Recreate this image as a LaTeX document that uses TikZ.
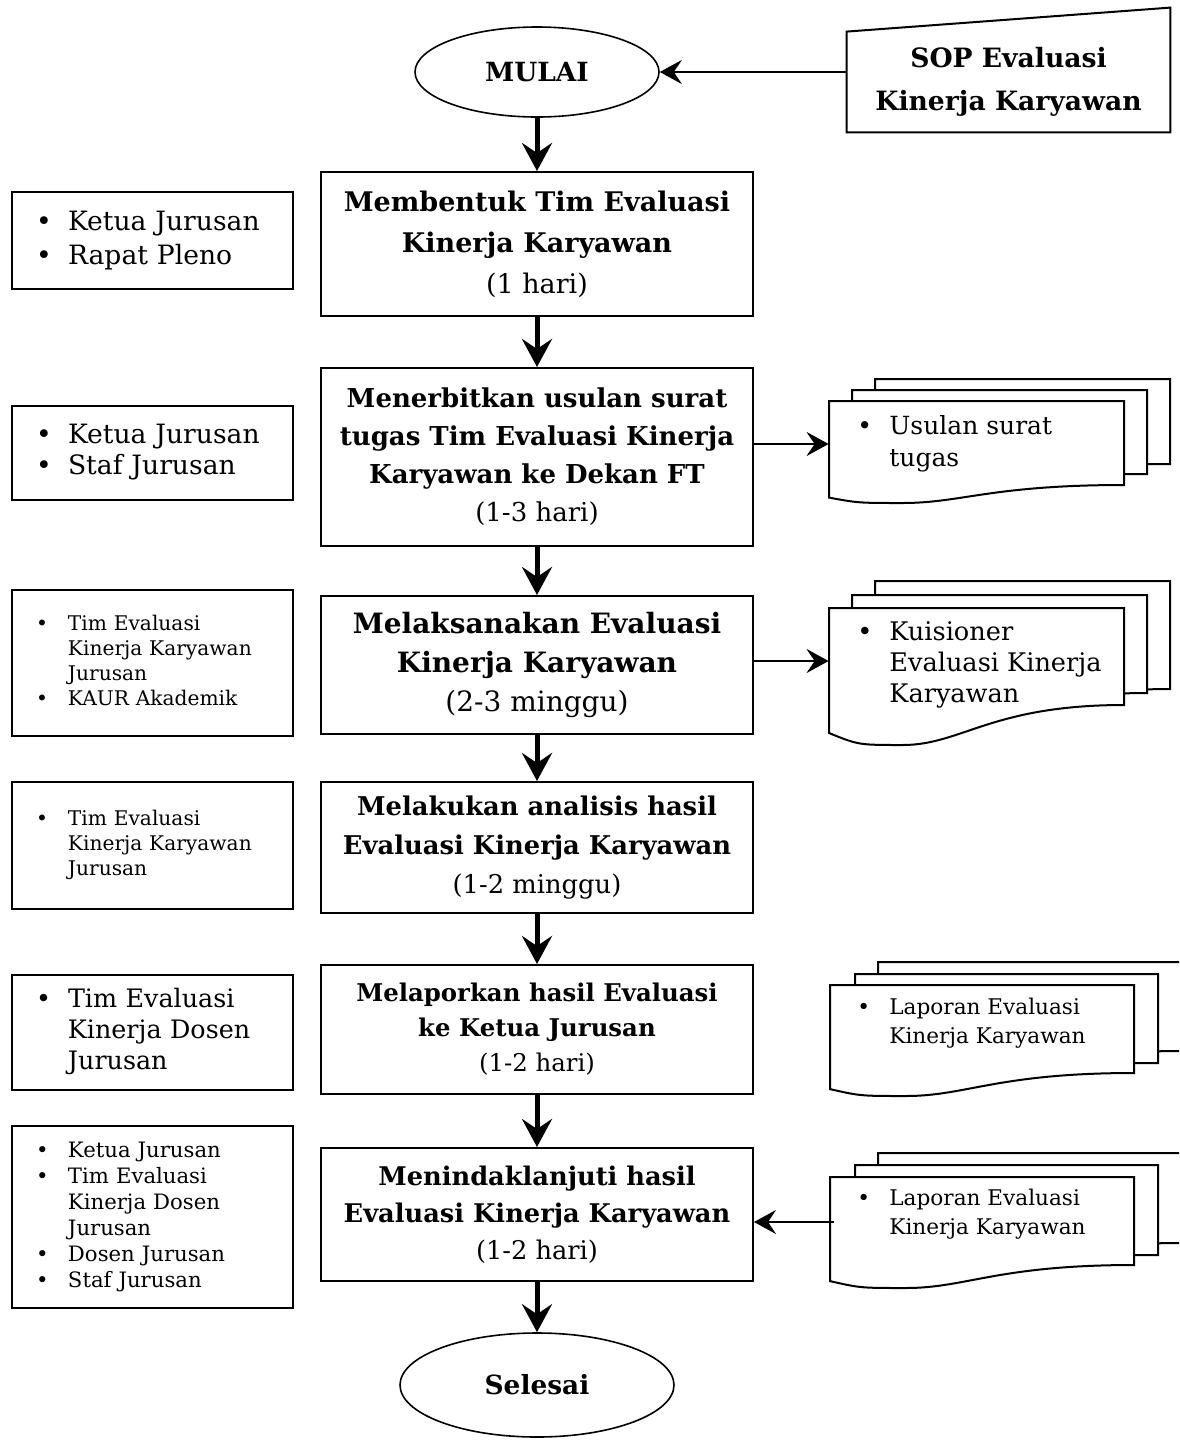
\documentclass[tikz,border=0pt]{standalone}
\usepackage{fontspec}
\setmainfont{DejaVu Serif}
\usetikzlibrary{shapes.geometric,arrows.meta}

\newcommand{\fsz}[2]{\fontsize{#1}{#2}\selectfont}
% one sheet of a document stack: left, top, right, bottom, wave
\newcommand{\docpage}[5]{%
  \draw[page] (#1,#2) -- (#3,#2) -- (#3,#4)
    .. controls ({#1+0.55*(#3-#1)},#4) and ({#1+0.45*(#3-#1)},{#4+#5}) .. ({#1+0.25*(#3-#1)},{#4+#5})
    .. controls ({#1+0.1*(#3-#1)},{#4+#5}) .. (#1,{#4+0.7*#5}) -- cycle;}

\tikzset{
  proc/.style={draw, line width=1pt, minimum width=216pt, align=center, inner sep=0pt},
  term/.style={draw, ellipse, line width=0.8pt, inner sep=0pt, font=\bfseries\fsz{13.2}{16}},
  actor/.style={draw, line width=1pt, minimum width=140.5pt, text width=116.5pt,
                inner xsep=12pt, inner ysep=0pt, align=left},
  doctext/.style={anchor=west, inner sep=0pt, align=left},
  docpage/.style={minimum width=147.5pt, inner sep=0pt},
  page/.style={draw, line width=1pt, fill=white},
  flow/.style={line width=2.5pt, -{Stealth[length=14pt,width=15pt,inset=5pt]}},
  arr/.style={line width=1pt, -{Stealth[length=11pt,width=12pt,inset=4pt]}}
}

\begin{document}
\begin{tikzpicture}[x=1pt,y=-1pt]
\useasboundingbox (0,0) rectangle (589.5,720.5);
\clip (0,0) rectangle (589.5,720.5);
%\draw[gray,very thin] (0,0) grid[step=50] (589.5,720.5);

\node[term, minimum width=122pt, minimum height=45pt] (mulai) at (268.5,36) {MULAI};

\node[align=center, font=\bfseries\fsz{13.3}{21.5}, minimum width=161.5pt, minimum height=50pt, inner sep=0pt] (sop) at (504.25,41) {SOP Evaluasi\\Kinerja Karyawan};
\draw[line width=1pt] (sop.south west) -- (sop.south east) -- ([yshift=12pt]sop.north east) -- (sop.north west) -- cycle;

\draw[arr] (mulai.east -| sop.west) -- (mulai.east);

\node[proc, minimum height=72pt, font=\fsz{13.5}{20.5}] (box1) at (268.5,122) {\textbf{Membentuk Tim Evaluasi}\\\textbf{Kinerja Karyawan}\\(1 hari)};

\node[proc, minimum height=89pt, font=\fsz{13}{19}] (box2) at (268.5,228.5) {\textbf{Menerbitkan usulan surat}\\\textbf{tugas Tim Evaluasi Kinerja}\\\textbf{Karyawan ke Dekan FT}\\(1-3 hari)};

\node[proc, minimum height=69pt, font=\fsz{14}{19.5}] (box3) at (268.5,332.5) {\textbf{Melaksanakan Evaluasi}\\\textbf{Kinerja Karyawan}\\(2-3 minggu)};

\node[proc, minimum height=65.5pt, font=\fsz{12.9}{19.5}] (box4) at (268.5,423.75) {\textbf{Melakukan analisis hasil}\\\textbf{Evaluasi Kinerja Karyawan}\\(1-2 minggu)};

\node[proc, minimum height=64.5pt, font=\fsz{12.2}{17.5}] (box5) at (268.5,514.75) {\textbf{Melaporkan hasil Evaluasi}\\\textbf{ke Ketua Jurusan}\\(1-2 hari)};

\node[proc, minimum height=66.5pt, font=\fsz{12.85}{18.5}] (box6) at (268.5,607.25) {\textbf{Menindaklanjuti hasil}\\\textbf{Evaluasi Kinerja Karyawan}\\(1-2 hari)};

\node[term, minimum width=137pt, minimum height=52pt] (selesai) at (268.5,692.5) {Selesai};

\draw[flow] (mulai) -- (box1);
\draw[flow] (box1) -- (box2);
\draw[flow] (box2) -- (box3);
\draw[flow] (box3) -- (box4);
\draw[flow] (box4) -- (box5);
\draw[flow] (box5) -- (box6);
\draw[flow] (box6) -- (selesai);

% who does it
\node[actor, minimum height=48.5pt, font=\fsz{13.3}{17}] (pel1) at (76.25,120.25) {\begin{tabular}{@{}p{16pt}@{}l@{}}\textbullet & Ketua Jurusan\\ \textbullet & Rapat Pleno\end{tabular}};

\node[actor, minimum height=47pt, font=\fsz{13.3}{15.5}] (pel2) at (76.25,226.5) {\begin{tabular}{@{}p{16pt}@{}l@{}}\textbullet & Ketua Jurusan\\ \textbullet & Staf Jurusan\end{tabular}};

\node[actor, minimum height=73pt, font=\fsz{10.1}{12.5}] (pel3) at (76.25,331.5) {\begin{tabular}{@{}p{16pt}@{}l@{}}\textbullet & Tim Evaluasi\\ & Kinerja Karyawan\\ & Jurusan\\ \textbullet & KAUR Akademik\end{tabular}};

\node[actor, minimum height=63.5pt, font=\fsz{10.1}{12.5}] (pel4) at (76.25,422.75) {\begin{tabular}{@{}p{16pt}@{}l@{}}\textbullet & Tim Evaluasi\\ & Kinerja Karyawan\\ & Jurusan\end{tabular}};

\node[actor, minimum height=57.5pt, font=\fsz{12.7}{15.5}] (pel5) at (76.25,516.25) {\begin{tabular}{@{}p{16pt}@{}l@{}}\textbullet & Tim Evaluasi\\ & Kinerja Dosen\\ & Jurusan\end{tabular}};

\node[actor, minimum height=91pt, font=\fsz{10.6}{13}] (pel6) at (76.25,608.5) {\begin{tabular}{@{}p{16pt}@{}l@{}}\textbullet & Ketua Jurusan\\ \textbullet & Tim Evaluasi\\ & Kinerja Dosen\\ & Jurusan\\ \textbullet & Dosen Jurusan\\ \textbullet & Staf Jurusan\end{tabular}};

% documents
\docpage{437.5}{189.5}{585}{232}{9}
\docpage{426}{195}{573.5}{237}{9}
\docpage{414.5}{200.5}{562}{242.5}{9}
\node[docpage, minimum height=43pt] (docA) at (488.25,222) {};
\node[doctext, font=\fsz{12.5}{16}] (docAtxt) at (428.5,222) {\begin{tabular}{@{}p{16pt}@{}l@{}}\textbullet & Usulan surat\\ & tugas\end{tabular}};

\docpage{437.5}{290.5}{585}{344.5}{20}
\docpage{426}{297.5}{573.5}{346.5}{20}
\docpage{414.5}{304}{562}{352.5}{20}
\node[docpage, minimum height=53pt] (docB) at (488.25,330.5) {};
\node[doctext, font=\fsz{12.8}{15.5}] (docBtxt) at (428.5,332.75) {\begin{tabular}{@{}p{16pt}@{}l@{}}\textbullet & Kuisioner\\ & Evaluasi Kinerja\\ & Karyawan\end{tabular}};

\docpage{439}{481}{592}{525.5}{11.5}
\docpage{427.5}{487}{579}{531.5}{11.5}
\docpage{415}{492.5}{567}{536.5}{11.5}
\node[docpage, minimum height=44pt] (docC) at (491,514.5) {};
\node[doctext, font=\fsz{10.8}{14.5}] (docCtxt) at (428.5,511.75) {\begin{tabular}{@{}p{16pt}@{}l@{}}\textbullet & Laporan Evaluasi\\ & Kinerja Karyawan\end{tabular}};

\docpage{439}{576.5}{592}{621.5}{11.5}
\docpage{427.5}{582.5}{579}{627.5}{11.5}
\docpage{415}{588.5}{567}{632.5}{11.5}
\node[docpage, minimum height=45pt] (docD) at (491,611) {};
\node[doctext, font=\fsz{10.8}{14.5}] (docDtxt) at (428.5,607.25) {\begin{tabular}{@{}p{16pt}@{}l@{}}\textbullet & Laporan Evaluasi\\ & Kinerja Karyawan\end{tabular}};

\draw[arr] (box2.east |- docA.west) -- (docA.west);
\draw[arr] (box3.east |- docB.west) -- (docB.west);
\draw[arr] (docD.west) -- (box6.east |- docD.west);

\end{tikzpicture}
\end{document}
